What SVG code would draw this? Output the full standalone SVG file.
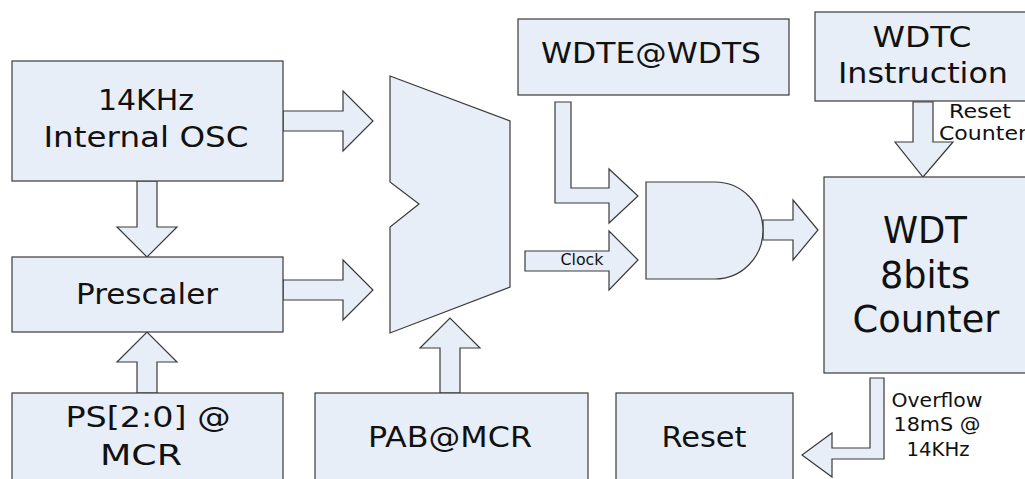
<svg xmlns="http://www.w3.org/2000/svg" width="1025" height="479" viewBox="0 0 1025 479">
  <style>
    .blk { fill: #e8eef7; stroke: #3a3a3a; stroke-width: 1.2; }
    .arr { fill: #e8eef7; stroke: #3a3a3a; stroke-width: 1.2; stroke-linejoin: miter; }
    text { font-family: "DejaVu Sans", Verdana, sans-serif; fill: #111; text-anchor: middle; }
    .big { font-size: 28px; }
    .huge { font-size: 37px; }
    .lbl { font-size: 19px; }
    .sm { font-size: 15px; }
  </style>
  <rect width="1025" height="479" fill="#ffffff"/>

  <!-- connectors: block arrows -->
  <g id="connectors">
    <polygon class="arr" points="283,111 343,111 343,91 373,121 343,151 343,131 283,131"/>
    <polygon class="arr" points="283,280 343,280 343,260 373,290 343,320 343,300 283,300"/>
    <polygon class="arr" points="137,181 157,181 157,227 177,227 147,257 117,227 137,227"/>
    <polygon class="arr" points="137,393 157,393 157,362 177,362 147,332 117,362 137,362"/>
    <polygon class="arr" points="440,393 460,393 460,348 480,348 450,318 420,348 440,348"/>
    <polygon class="arr" points="555,102 571,102 571,188 609,188 609,169 638,196 609,223 609,203 555,203"/>
    <polygon class="arr" points="525,251 609,251 609,231 638,260 609,290 609,271 525,271"/>
    <text class="sm" x="582" y="265" textLength="43" lengthAdjust="spacingAndGlyphs">Clock</text>
    <polygon class="arr" points="763,220 793,220 793,200 818,230 793,260 793,240 763,240"/>
    <polygon class="arr" points="913,102 933,102 933,142 953,142 923,177 895,142 913,142"/>
    <text class="lbl" x="980" y="118" textLength="62" lengthAdjust="spacingAndGlyphs">Reset</text>
    <text class="lbl" x="983" y="140" textLength="88" lengthAdjust="spacingAndGlyphs">Counter</text>
    <polygon class="arr" points="870,378 884,378 884,459 832,459 832,477 802,455 832,433 832,448 870,448"/>
    <text class="lbl" x="937" y="407" textLength="91" lengthAdjust="spacingAndGlyphs">Overflow</text>
    <text class="lbl" x="937" y="431" textLength="87" lengthAdjust="spacingAndGlyphs">18mS @</text>
    <text class="lbl" x="938" y="456" textLength="63" lengthAdjust="spacingAndGlyphs">14KHz</text>
  </g>

  <g id="osc">
    <rect class="blk" x="12" y="61" width="271" height="120"/>
    <text class="big" x="146" y="110" textLength="96" lengthAdjust="spacingAndGlyphs">14KHz</text>
    <text class="big" x="146" y="147" textLength="205" lengthAdjust="spacingAndGlyphs">Internal OSC</text>
  </g>

  <g id="prescaler">
    <rect class="blk" x="12" y="257" width="271" height="75"/>
    <text class="big" x="147" y="304" textLength="142" lengthAdjust="spacingAndGlyphs">Prescaler</text>
  </g>

  <g id="ps">
    <rect class="blk" x="12" y="393" width="271" height="100"/>
    <text class="big" x="148" y="427" textLength="165" lengthAdjust="spacingAndGlyphs">PS[2:0] @</text>
    <text class="big" x="141" y="465" textLength="82" lengthAdjust="spacingAndGlyphs">MCR</text>
  </g>

  <g id="mux">
    <polygon class="blk" points="390,76 510,121 510,287 390,333 390,227 419,204 390,182"/>
  </g>

  <g id="pab">
    <rect class="blk" x="315" y="393" width="273" height="100"/>
    <text class="big" x="450" y="447" textLength="164" lengthAdjust="spacingAndGlyphs">PAB@MCR</text>
  </g>

  <g id="wdte">
    <rect class="blk" x="518" y="19" width="271" height="76"/>
    <text class="big" x="651" y="63" textLength="220" lengthAdjust="spacingAndGlyphs">WDTE@WDTS</text>
  </g>

  <g id="wdtc">
    <rect class="blk" x="815" y="12" width="215" height="89"/>
    <text class="big" x="922" y="47" textLength="99" lengthAdjust="spacingAndGlyphs">WDTC</text>
    <text class="big" x="923" y="83" textLength="170" lengthAdjust="spacingAndGlyphs">Instruction</text>
  </g>

  <g id="and">
    <path class="blk" d="M646,182 H715 A48,48.5 0 0 1 715,279 H646 Z"/>
  </g>

  <g id="wdt">
    <rect class="blk" x="824" y="177" width="210" height="196"/>
    <text class="huge" x="925" y="243" textLength="84" lengthAdjust="spacingAndGlyphs">WDT</text>
    <text class="huge" x="925" y="288" textLength="90" lengthAdjust="spacingAndGlyphs">8bits</text>
    <text class="huge" x="926" y="332" textLength="147" lengthAdjust="spacingAndGlyphs">Counter</text>
  </g>

  <g id="reset">
    <rect class="blk" x="616" y="393" width="177" height="100"/>
    <text class="big" x="704" y="447" textLength="85" lengthAdjust="spacingAndGlyphs">Reset</text>
  </g>
</svg>
